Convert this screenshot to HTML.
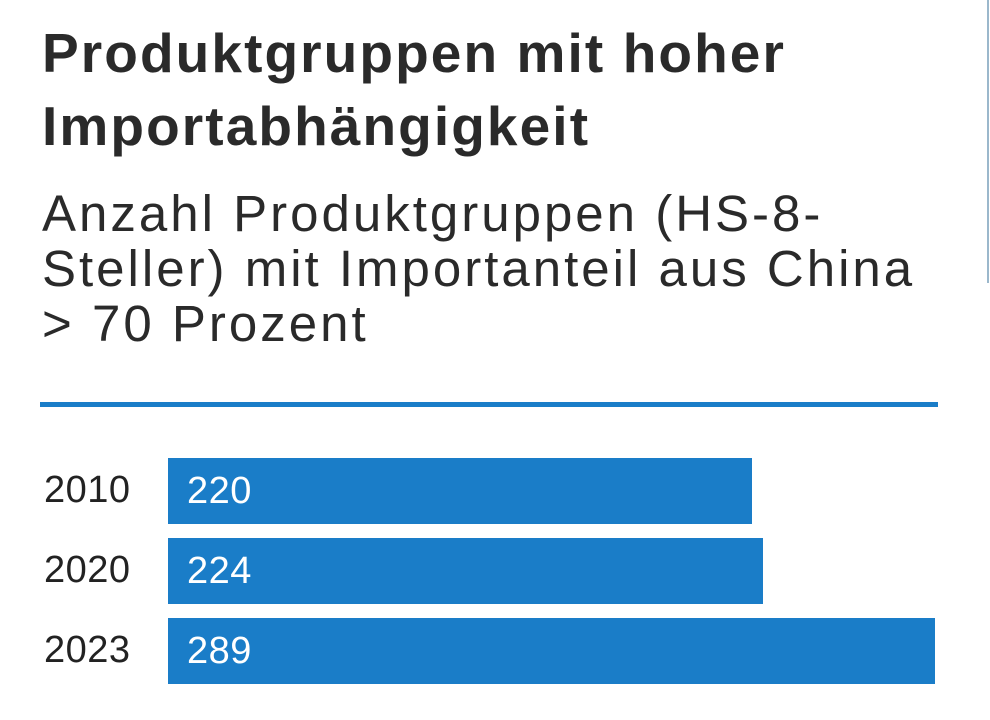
<!DOCTYPE html>
<html><head><style>
body{margin:0;width:990px;height:720px;background:#fff;position:relative;overflow:hidden;font-family:"Liberation Sans",sans-serif;color:#222}
.t{position:absolute;left:42px;font-weight:bold;font-size:55px;letter-spacing:2.1px;line-height:73px;top:17px;color:#2a2a2a;white-space:nowrap}
.s{position:absolute;left:42px;font-size:51px;letter-spacing:3px;line-height:55px;top:186px;color:#2a2a2a;white-space:nowrap}
.rule{position:absolute;left:40px;top:402px;width:898px;height:5px;background:#1a7dc8}
.vl{position:absolute;left:987px;top:0;width:2px;height:283px;background:#9bb8cc}
.y{position:absolute;left:44px;font-size:38px;letter-spacing:0.5px}
.b{position:absolute;left:168px;height:66px;background:#1a7dc8;color:#fff;font-size:38px;line-height:66px;padding-left:19px;box-sizing:border-box;letter-spacing:0.5px}
</style></head><body>
<div class="vl"></div>
<div class="t">Produktgruppen mit hoher<br>Importabhängigkeit</div>
<div class="s">Anzahl Produktgruppen (HS-8-<br>Steller) mit Importanteil aus China<br>&gt; 70 Prozent</div>
<div class="rule"></div>
<div class="y" style="top:469px">2010</div>
<div class="b" style="top:458px;width:584px">220</div>
<div class="y" style="top:549px">2020</div>
<div class="b" style="top:538px;width:595px">224</div>
<div class="y" style="top:629px">2023</div>
<div class="b" style="top:618px;width:767px">289</div>
</body></html>
